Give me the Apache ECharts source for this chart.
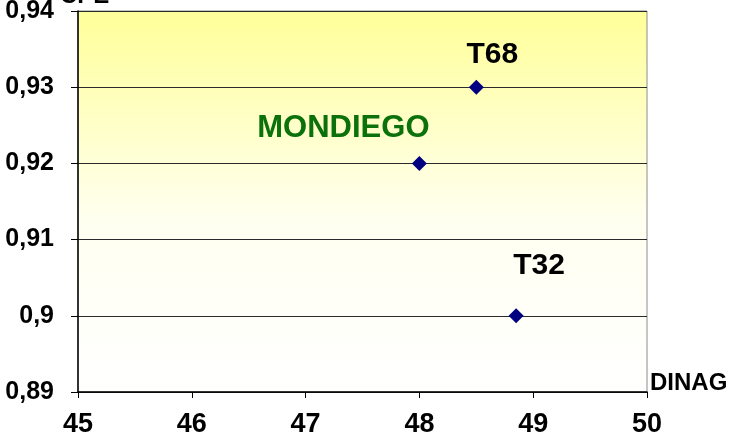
<!DOCTYPE html>
<html>
<head>
<meta charset="utf-8">
<script src="https://cdn.jsdelivr.net/npm/echarts@6/dist/echarts.min.js"></script>
<style>
  html, body { margin: 0; padding: 0; background: #fff; }
  #chart { width: 735px; height: 436px; }
</style>
</head>
<body>
<div id="chart"></div>
<script>
let names = ['T68', 'MONDIEGO', 'T32']
let dinag = [48.5, 48.0, 48.85]
let cpe = [0.93, 0.92, 0.90]
let xTicks = [45, 46, 47, 48, 49, 50]
let yTicks = [0.89, 0.90, 0.91, 0.92, 0.93, 0.94]

let chart = echarts.init(document.getElementById('chart'))

// label look per point
let labelStyle = {
    'T68': { color: '#000', offset: [16, -32] },
    'MONDIEGO': { color: '#0b720b', offset: [-76, -35] },
    'T32': { color: '#000', offset: [23, -50] }
}

let points = names.map(function (n, i) {
    return {
        name: n,
        value: [dinag[i], cpe[i]],
        label: {
            show: true,
            formatter: '{b}',
            position: 'inside',
            offset: labelStyle[n].offset,
            color: labelStyle[n].color,
            opacity: 1,
            fontFamily: 'Liberation Sans',
            fontWeight: 'bold',
            fontSize: n == 'MONDIEGO' ? 31 : 30
        }
    }
})

let option = {
    animation: false,
    grid: {
        left: 78,
        right: 88,
        top: 11,
        bottom: 44,
        containLabel: false,
        outerBoundsMode: 'none',
        show: true,
        borderColor: '#8c8c8c',
        borderWidth: 1,
        backgroundColor: new echarts.graphic.LinearGradient(0, 0, 0, 1, [
            { offset: 0, color: '#ffff99' },
            { offset: 0.55, color: '#fffff0' },
            { offset: 1, color: '#ffffff' }
        ])
    },
    graphic: [
        {
            type: 'text',
            left: 60,
            top: -16,
            style: {
                text: 'CPE',
                fontFamily: 'Liberation Sans',
                fontWeight: 'bold',
                fontSize: 24,
                fill: '#000'
            }
        },
        {
            type: 'text',
            left: 650,
            top: 371,
            style: {
                text: 'DINAG',
                fontFamily: 'Liberation Sans',
                fontWeight: 'bold',
                fontSize: 24,
                fill: '#000'
            }
        }
    ],
    xAxis: {
        type: 'value',
        min: xTicks[0],
        max: xTicks[xTicks.length - 1],
        interval: 1,
        axisLine: { show: true, lineStyle: { color: '#000', width: 1.5 } },
        axisTick: { show: true, length: 6, lineStyle: { color: '#000' } },
        splitLine: { show: false },
        axisLabel: {
            margin: 19,
            fontFamily: 'Liberation Sans',
            fontWeight: 'bold',
            fontSize: 27,
            color: '#000'
        }
    },
    yAxis: {
        type: 'value',
        min: yTicks[0],
        max: yTicks[yTicks.length - 1],
        interval: 0.01,
        axisLine: { show: true, lineStyle: { color: '#000', width: 1.5 } },
        axisTick: { show: true, length: 7, lineStyle: { color: '#000' } },
        splitLine: { show: true, lineStyle: { color: '#2a2a2a', width: 1.2 } },
        axisLabel: {
            margin: 24,
            fontFamily: 'Liberation Sans',
            fontWeight: 'bold',
            fontSize: 25,
            color: '#000',
            formatter: function (v) {
                return String(parseFloat(v.toFixed(2))).replace('.', ',')
            }
        }
    },
    series: [
        {
            type: 'scatter',
            symbol: 'diamond',
            symbolSize: 15,
            itemStyle: { color: '#000080', opacity: 1 },
            data: points
        }
    ]
}

chart.setOption(option)
</script>
</body>
</html>
